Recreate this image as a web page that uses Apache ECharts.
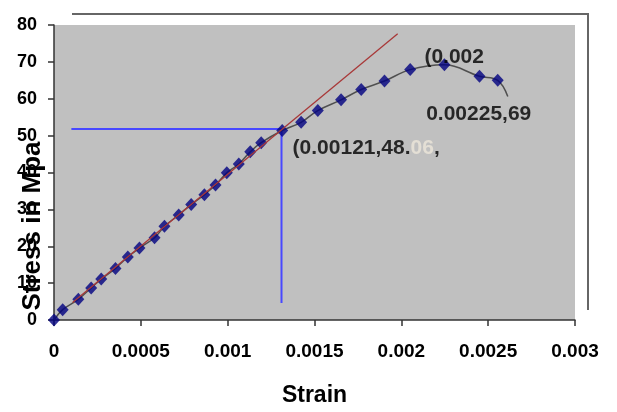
<!DOCTYPE html>
<html>
<head>
<meta charset="utf-8">
<script src="https://cdn.jsdelivr.net/npm/echarts@6/dist/echarts.min.js"></script>
<style>
html,body{margin:0;padding:0;background:#fff;}
#c{width:617px;height:412px;}
</style>
</head>
<body>
<div id="c"></div>
<script>
// ---- data ----
const strain = [0, 0.00005, 0.00014, 0.000214, 0.000272, 0.000354, 0.000425, 0.000492, 0.000579, 0.000636,
  0.000718, 0.00079, 0.000866, 0.00093, 0.000995, 0.001064, 0.00113, 0.001193, 0.001314, 0.001423,
  0.001519, 0.001653, 0.001769, 0.001903, 0.002051, 0.002248, 0.00245, 0.002555];
const stress = [0, 2.8, 5.6, 8.7, 11.1, 14.0, 17.1, 19.5, 22.3, 25.4,
  28.5, 31.3, 34.0, 36.6, 39.9, 42.3, 45.6, 48.1, 51.4, 53.6,
  56.8, 59.7, 62.5, 64.8, 67.9, 69.2, 66.1, 65.0];
const curveTailStrain = [0.002613];
const curveTailStress = [60.6];
const tangentStrain = [0.000107, 0.001979];
const tangentStress = [4.75, 77.6];
const guideStrain = [0.0001, 0.00131, 0.00131];
const guideStress = [51.8, 51.8, 4.6];
const xTicks = [0, 0.0005, 0.001, 0.0015, 0.002, 0.0025, 0.003];
const yTicks = [0, 10, 20, 30, 40, 50, 60, 70, 80];
const annotationText = ['{a|(0.00121,48.}{f|06}{a|,}', '{a|(0.002}', '{a|0.00225,69}'];
const annotationStrain = [0.001374, 0.002133, 0.002143];
const annotationStress = [46.5, 71.3, 55.8];

const zip = (a, b) => a.map((v, i) => [v, b[i]]);
const pts = zip(strain, stress);
const curve = pts.concat(zip(curveTailStrain, curveTailStress));

const chart = echarts.init(document.getElementById('c'), null, {renderer: 'canvas'});
const txt = '#000';
const font = '"Liberation Sans", Arial, sans-serif';
chart.setOption({
  animation: false,
  backgroundColor: '#ffffff',
  grid: {left: 54, right: 42, top: 25, bottom: 84, show: true, backgroundColor: '#c0c0c0', borderWidth: 0},
  xAxis: {
    type: 'value', min: xTicks[0], max: xTicks[xTicks.length - 1], interval: xTicks[1] - xTicks[0],
    name: 'Strain', nameLocation: 'middle', nameGap: 64,
    nameTextStyle: {fontFamily: font, fontWeight: 'bold', fontSize: 23, color: txt},
    axisLine: {lineStyle: {color: '#333', width: 1.5}},
    axisTick: {show: true, length: 6, lineStyle: {color: '#333', width: 1.5}},
    axisLabel: {margin: 22, fontFamily: font, fontWeight: 'bold', fontSize: 19, color: txt,
      formatter: v => String(+v.toFixed(4))},
    splitLine: {show: false}
  },
  yAxis: {
    type: 'value', min: yTicks[0], max: yTicks[yTicks.length - 1], interval: yTicks[1] - yTicks[0],
    axisLine: {show: true, lineStyle: {color: '#333', width: 1.5}},
    axisTick: {show: true, length: 6, lineStyle: {color: '#333', width: 1.5}},
    axisLabel: {margin: 17, fontFamily: font, fontWeight: 'bold', fontSize: 18, color: txt},
    splitLine: {show: false}
  },
  graphic: [
    {type: 'polyline', shape: {points: [[72, 14], [588, 14], [588, 310]]}, style: {stroke: '#666', lineWidth: 2, fill: null}},
    {type: 'text', x: 33, y: 226, rotation: Math.PI / 2, z: 10,
      style: {text: 'Stress in Mpa', font: 'bold 26px ' + font, fill: txt, align: 'center', verticalAlign: 'middle'}}
  ],
  series: [
    {type: 'line', data: zip(guideStrain, guideStress), symbol: 'none', lineStyle: {color: '#4848ff', width: 2}, z: 2},
    {type: 'line', data: curve, smooth: 0.4, symbol: 'none', lineStyle: {color: '#505050', width: 1.5}, z: 3},
    {type: 'scatter', data: pts, symbol: 'diamond', symbolSize: [12, 13], itemStyle: {color: '#000080'}, z: 4},
    {type: 'line', data: zip(tangentStrain, tangentStress), symbol: 'none', lineStyle: {color: '#a83838', width: 1.3}, z: 5},
    {type: 'scatter', symbolSize: 0, z: 6,
      data: annotationText.map((t, i) => ({value: [annotationStrain[i], annotationStress[i]], name: t})),
      label: {show: true, position: 'right', distance: 0, formatter: p => p.name,
        rich: {
          a: {fontFamily: font, fontWeight: 'bold', fontSize: 21, color: txt},
          f: {fontFamily: font, fontWeight: 'bold', fontSize: 21, color: '#ece6da'}
        }}}
  ]
});
</script>
</body>
</html>
